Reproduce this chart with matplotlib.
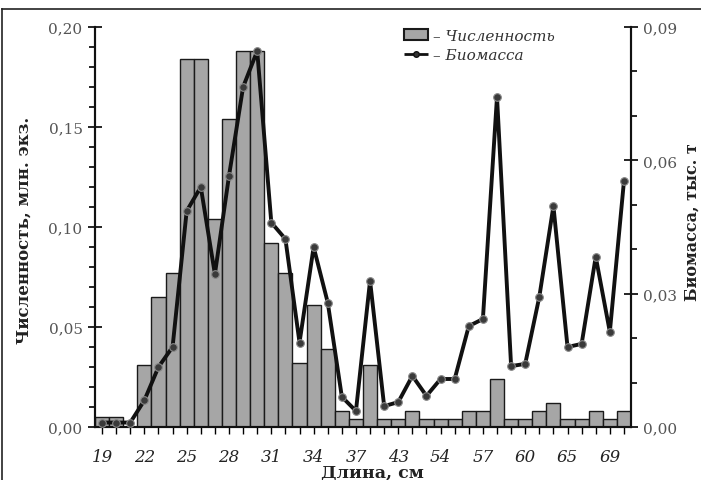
import matplotlib
matplotlib.use('Agg')
import matplotlib.pyplot as plt
from matplotlib.ticker import MultipleLocator, FuncFormatter, FixedLocator
from matplotlib.lines import Line2D
from matplotlib.patches import Patch

plt.rcParams['font.family'] = ['DejaVu Serif']

# длина, см (подписаны только каждые 3 класса)
lengths = [19, 20, 21, 22, 23, 24, 25, 26, 27, 28, 29, 30, 31, 32, 33, 34, 35, 36, 37,
           39, 41, 43, 46, 50, 54, 55, 56, 57, 58, 59, 60, 62, 63, 65, 66, 67, 69, 70]

# численность, млн. экз.
numbers = [0.005, 0.005, 0.0, 0.031, 0.065, 0.077, 0.184, 0.184, 0.104, 0.154,
           0.188, 0.188, 0.092, 0.077, 0.032, 0.061, 0.039, 0.008, 0.004, 0.031,
           0.004, 0.004, 0.008, 0.004, 0.004, 0.004, 0.008, 0.008, 0.024, 0.004,
           0.004, 0.008, 0.012, 0.004, 0.004, 0.008, 0.004, 0.008]

# биомасса, тыс. т
biomass = [0.001, 0.001, 0.001, 0.006, 0.0135, 0.018, 0.0486, 0.054, 0.0344, 0.0565,
           0.0765, 0.0846, 0.046, 0.0423, 0.019, 0.0405, 0.028, 0.0068, 0.0036, 0.0329,
           0.0047, 0.0056, 0.0115, 0.007, 0.0108, 0.0108, 0.0227, 0.0243, 0.0743, 0.0137,
           0.0142, 0.0293, 0.0497, 0.018, 0.0187, 0.0383, 0.0214, 0.0553]

W, H = 701, 481
fig = plt.figure(figsize=(W / 100, H / 100), dpi=100)
ax = fig.add_axes([95 / W, 1 - 428 / H, 536 / W, 400 / H])
ax2 = ax.twinx()

x = list(range(len(lengths)))
gray = '#555555'

# столбцы - численность
ax.bar(x, numbers, width=1.0, color='#a6a6a6', edgecolor='#1a1a1a', linewidth=1.0, zorder=2)
ax.set_xlim(-0.5, len(lengths) - 0.5)
ax.set_ylim(0, 0.2)

# линия - биомасса
ax2.plot(x, biomass, color='#111111', linewidth=2.8, marker='o', markersize=5.5,
         markerfacecolor='#3a3a3a', markeredgecolor='#888888', markeredgewidth=0.8,
         solid_joinstyle='round', zorder=3)
ax2.set_ylim(0, 0.09)

fmt = FuncFormatter(lambda v, p: f'{v:.2f}'.replace('.', ','))

ax.yaxis.set_major_locator(MultipleLocator(0.05))
ax.yaxis.set_minor_locator(MultipleLocator(0.01))
ax.yaxis.set_major_formatter(fmt)
ax.tick_params(axis='y', which='major', direction='inout', length=10, width=1.2,
               labelsize=11, labelcolor=gray, pad=4)
ax.tick_params(axis='y', which='minor', direction='out', length=4, width=1.2)

ax2.yaxis.set_major_locator(MultipleLocator(0.03))
ax2.yaxis.set_minor_locator(MultipleLocator(0.01))
ax2.yaxis.set_major_formatter(fmt)
ax2.tick_params(axis='y', which='major', direction='inout', length=10, width=1.2,
                labelsize=11, labelcolor=gray, pad=4)
ax2.tick_params(axis='y', which='minor', direction='out', length=4, width=1.2)

ax.xaxis.set_major_locator(FixedLocator(x))
ax.set_xticklabels([str(v) if i % 3 == 0 else '' for i, v in enumerate(lengths)],
                   fontstyle='italic', fontsize=12, color='#222222')
ax.tick_params(axis='x', direction='out', length=5, width=1.0, pad=10)

for a in (ax, ax2):
    a.spines['top'].set_visible(False)
    for s in ('left', 'right', 'bottom'):
        a.spines[s].set_linewidth(1.5)
        a.spines[s].set_color('#111111')

# легенда
handles = [Patch(facecolor='#a6a6a6', edgecolor='#1a1a1a', linewidth=1.5),
           Line2D([0], [0], color='#111111', linestyle='--', linewidth=2,
                  marker='o', markersize=4, markerfacecolor='#333333')]
leg = ax2.legend(handles, ['– Численность', '– Биомасса'], loc='upper left',
                 bbox_to_anchor=(0.55, 1.03), frameon=False, handlelength=1.6,
                 handletextpad=0.3, labelspacing=0.35,
                 prop={'style': 'italic', 'size': 11})
for t in leg.get_texts():
    t.set_color('#333333')

# подписи осей
fig.text(24 / W, 1 - 230 / H, 'Численность, млн. экз.', rotation=90, ha='center',
         va='center', fontsize=12, fontweight='bold', color='#222222')
fig.text(692 / W, 1 - 222 / H, 'Биомасса, тыс. т', rotation=90, ha='center',
         va='center', fontsize=11.5, fontweight='bold', color='#222222')
fig.text(372 / W, 1 - 473 / H, 'Длина, см', ha='center', va='center',
         fontsize=12.5, fontweight='bold', color='#222222')

# рамка
fig.add_artist(Line2D([2 / W, 2 / W], [0, 1 - 10 / H], transform=fig.transFigure,
                      color='#222222', linewidth=1.2))
fig.add_artist(Line2D([2 / W, 1], [1 - 10 / H, 1 - 10 / H], transform=fig.transFigure,
                      color='#222222', linewidth=1.2))

fig.savefig('out.png', dpi=100)
